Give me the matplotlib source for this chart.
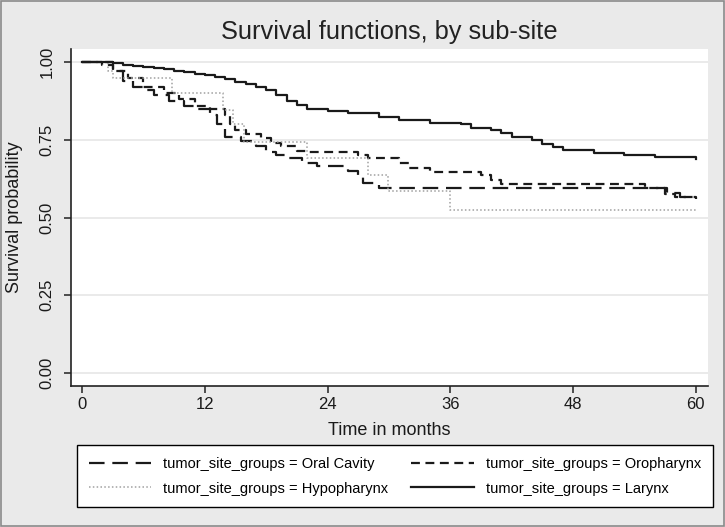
import matplotlib
matplotlib.use('Agg')
import matplotlib.pyplot as plt
from matplotlib.patches import Rectangle

# ── Kaplan-Meier step data (months, survival after step) ──────
oral_t = [0, 3, 4, 5, 6, 7, 8.5, 10, 11, 12.5, 13.2, 14, 15.5, 17, 18, 19,
          20, 21.5, 23, 26, 27, 27.5, 29, 57.2, 58.5, 60]
oral_s = [1.0, 0.97, 0.94, 0.92, 0.91, 0.895, 0.875, 0.86, 0.85, 0.83, 0.80,
          0.76, 0.745, 0.73, 0.71, 0.70, 0.69, 0.675, 0.665, 0.65, 0.635,
          0.61, 0.595, 0.578, 0.567, 0.56]

oro_t = [0, 2, 3, 4.5, 6, 8, 9.5, 11, 12.5, 14, 14.5, 15, 16, 17.5, 18.5,
         19.5, 21, 22, 27, 28, 31, 32, 34, 39, 40, 41, 55, 57, 58, 60]
oro_s = [1.0, 0.99, 0.97, 0.95, 0.92, 0.90, 0.88, 0.86, 0.85, 0.83, 0.80,
         0.78, 0.77, 0.755, 0.74, 0.73, 0.715, 0.71, 0.70, 0.69, 0.675, 0.66,
         0.647, 0.637, 0.62, 0.607, 0.595, 0.575, 0.567, 0.56]

hypo_t = [0, 2.5, 3, 8.8, 13.8, 14.8, 15.8, 22, 28, 29.9, 36, 60]
hypo_s = [1.0, 0.97, 0.95, 0.90, 0.846, 0.80, 0.744, 0.69, 0.637, 0.585,
          0.525, 0.525]

lar_t = [0, 3, 4, 5, 6, 7, 8, 9, 10, 11, 12, 13, 14, 15, 16, 17, 18, 19, 20,
         21, 22, 24, 26, 29, 31, 34, 37, 38, 40, 41, 42, 44, 45, 46, 47, 50,
         53, 56, 59, 60]
lar_s = [1.0, 0.996, 0.99, 0.988, 0.985, 0.98, 0.977, 0.972, 0.969, 0.962,
         0.958, 0.953, 0.945, 0.935, 0.928, 0.92, 0.91, 0.895, 0.875, 0.862,
         0.85, 0.843, 0.835, 0.824, 0.813, 0.805, 0.80, 0.787, 0.78, 0.771,
         0.76, 0.749, 0.736, 0.728, 0.717, 0.706, 0.701, 0.696, 0.693, 0.687]

x_ticks = [0, 12, 24, 36, 48, 60]
y_ticks = [0.0, 0.25, 0.5, 0.75, 1.0]
y_ticklabels = ['0.00', '0.25', '0.50', '0.75', '1.00']

plt.rcParams['font.family'] = ['Liberation Sans', 'DejaVu Sans']

BG = '#EAEAEA'
INK = '#1A1A1A'

fig = plt.figure(figsize=(7.25, 5.27), dpi=100)
fig.patch.set_facecolor(BG)
ax = fig.add_axes([71 / 725, 1 - 386 / 527, 637 / 725, 337 / 527])
ax.set_facecolor('white')

# ── Curves ────────────────────────────────────────────────────
l_oral, = ax.step(oral_t, oral_s, where='post', color=INK, lw=1.6,
                  dashes=(7, 3.5))
l_oro, = ax.step(oro_t, oro_s, where='post', color=INK, lw=1.6,
                 dashes=(4, 2.5))
l_hypo, = ax.step(hypo_t, hypo_s, where='post', color='#A0A0A0', lw=1.1,
                  dashes=(1, 1.5))
l_lar, = ax.step(lar_t, lar_s, where='post', color=INK, lw=1.6)

# ── Axes styling ──────────────────────────────────────────────
ax.set_xlim(-1.075, 61.19)
ax.set_ylim(-0.0418, 1.0418)
ax.set_xticks(x_ticks)
ax.set_yticks(y_ticks)
ax.set_yticklabels(y_ticklabels, rotation=90, va='center')
ax.grid(axis='y', color='#E6E6E6', lw=1.2)
ax.set_axisbelow(True)
for side in ['top', 'right']:
    ax.spines[side].set_visible(False)
for side in ['left', 'bottom']:
    ax.spines[side].set_color('#222222')
    ax.spines[side].set_linewidth(1.2)
ax.tick_params(direction='out', length=5, width=1.1, color='#222222',
               labelsize=12, labelcolor=INK)
ax.tick_params(axis='x', pad=3)
ax.tick_params(axis='y', pad=7)

ax.set_xlabel('Time in months', fontsize=13, color=INK, labelpad=7)
ax.set_ylabel('Survival probability', fontsize=13, color=INK, labelpad=12)

fig.text(0.537, 1 - 32 / 527, 'Survival functions, by sub-site',
         ha='center', va='center', fontsize=18.3, color='#222222')

# ── Legend ────────────────────────────────────────────────────
handles = [l_oral, l_hypo, l_oro, l_lar]
labels = ['tumor_site_groups = Oral Cavity',
          'tumor_site_groups = Hypopharynx',
          'tumor_site_groups = Oropharynx',
          'tumor_site_groups = Larynx']
leg = fig.legend(handles, labels, ncol=2, loc='upper left',
                 bbox_to_anchor=(77 / 725, 1 - 445 / 527),
                 borderaxespad=0, fontsize=10.5, frameon=True,
                 fancybox=False, edgecolor='black', framealpha=1,
                 handlelength=4.3, handletextpad=0.8, columnspacing=1.6,
                 borderpad=0.8, labelspacing=0.75)
leg.get_frame().set_linewidth(1.0)

# outer border of the graph
fig.patches.append(Rectangle((0.001, 0.001), 0.998, 0.998,
                             transform=fig.transFigure, fill=False,
                             edgecolor='#8A8A8A', lw=1.2))

fig.savefig('out.png', dpi=100, facecolor=BG)
